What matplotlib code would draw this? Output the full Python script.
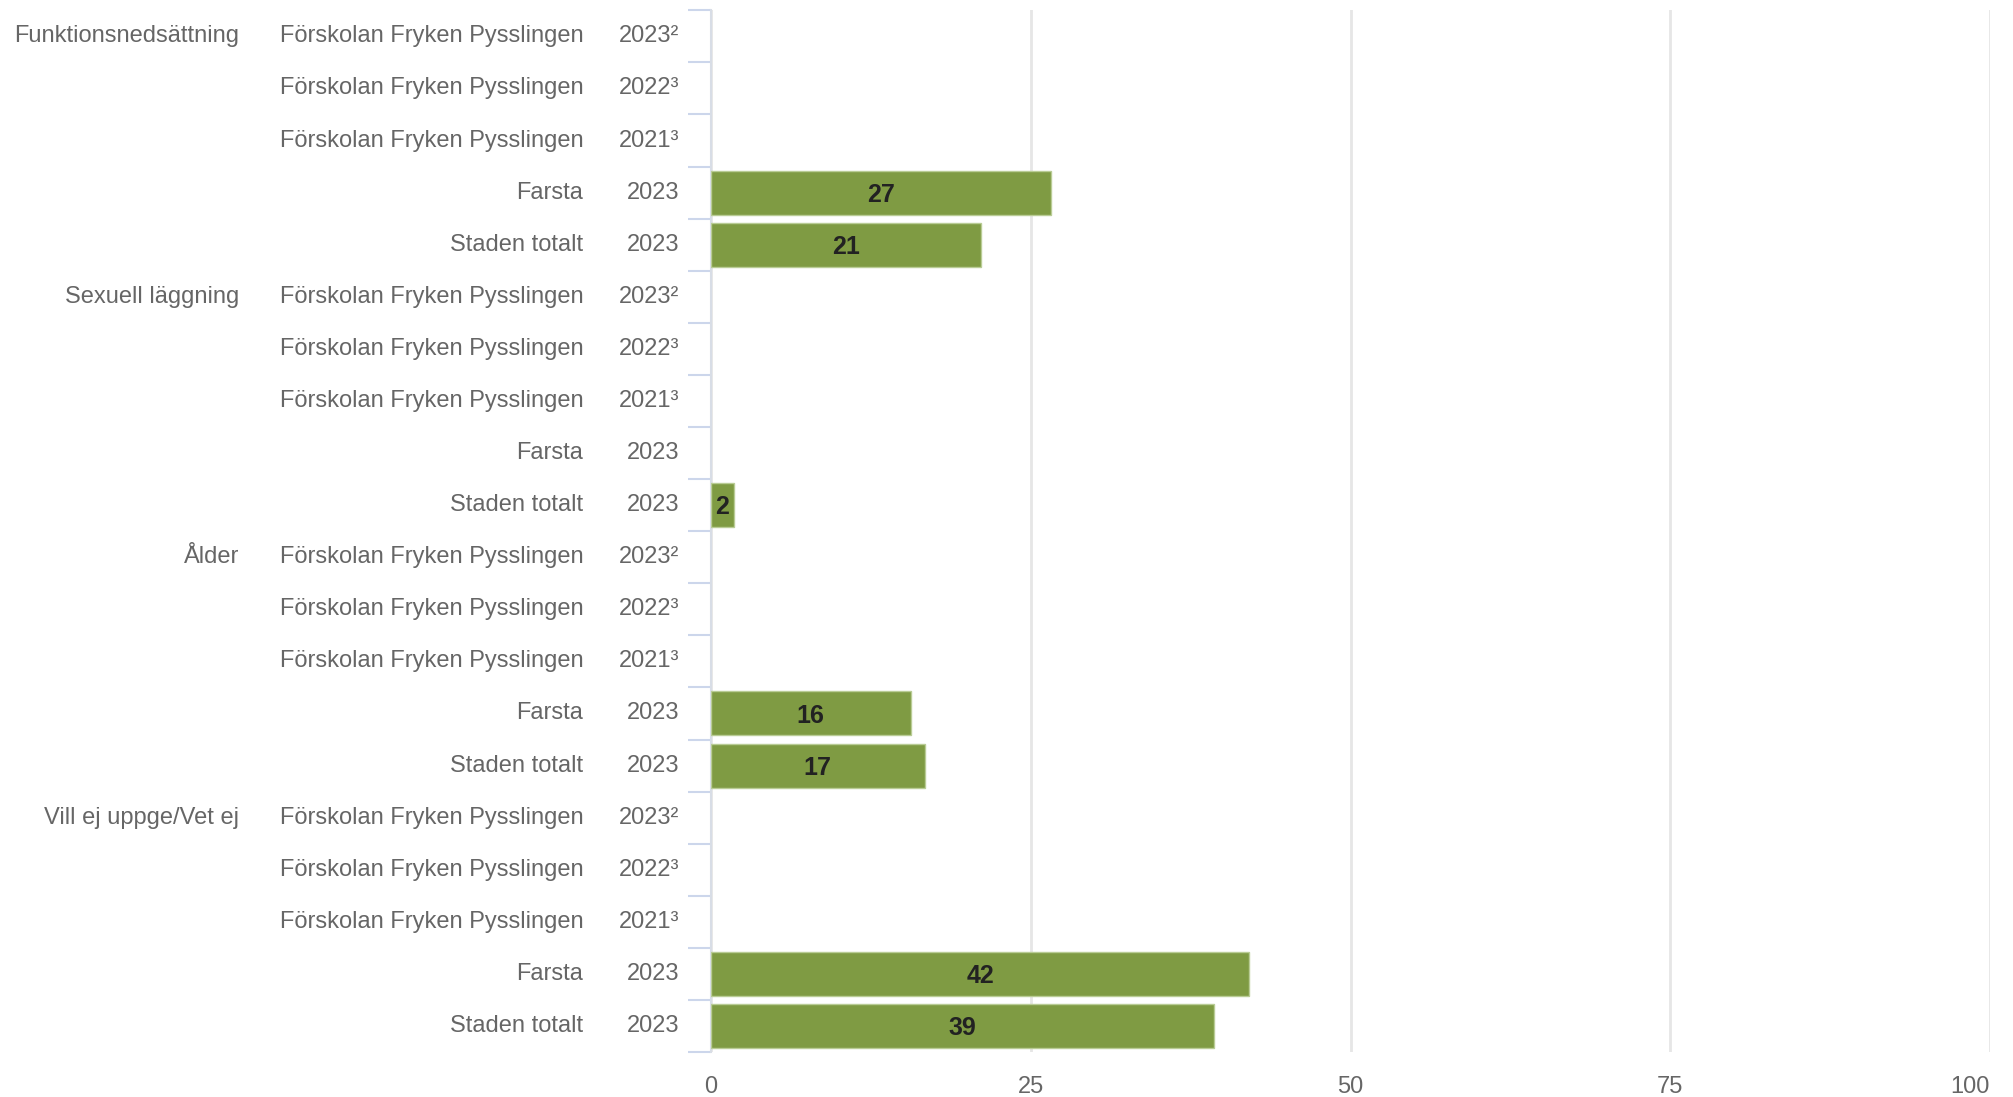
import numpy as np
import matplotlib
matplotlib.use('Agg')
import matplotlib.pyplot as plt
from matplotlib.transforms import blended_transform_factory

groups = ['Funktionsnedsättning', 'Sexuell läggning', 'Ålder', 'Vill ej uppge/Vet ej']
units = ['Förskolan Fryken Pysslingen', 'Förskolan Fryken Pysslingen',
         'Förskolan Fryken Pysslingen', 'Farsta', 'Staden totalt']
years = ['2023²', '2022³', '2021³', '2023', '2023']
values = [
    [np.nan, np.nan, np.nan, 26.6, 21.1],
    [np.nan, np.nan, np.nan, np.nan, 1.8],
    [np.nan, np.nan, np.nan, 15.6, 16.7],
    [np.nan, np.nan, np.nan, 42.1, 39.3],
]
xticks = [0, 25, 50, 75, 100]

plt.rcParams['font.family'] = ['Liberation Sans', 'DejaVu Sans']
grey = '#666666'
fs = 17

fig = plt.figure(figsize=(20.13, 10.97), dpi=100)
ax = fig.add_axes([0.3532, 0.041, 0.9886 - 0.3532, 0.9906 - 0.041])

vals = np.array(values).ravel()
n = len(vals)
ypos = np.arange(n)
has = ~np.isnan(vals)
ax.barh(ypos[has], vals[has], height=0.845, color='#7f9b43',
        edgecolor='#b9cc95', linewidth=1, zorder=3)

for y, v in zip(ypos[has], vals[has]):
    ax.text(v / 2, y + 0.04, f'{v:.0f}', ha='center', va='center',
            fontsize=18, fontweight='bold', color='#222222', zorder=4)

ax.set_xlim(0, 100)
ax.set_ylim(n - 0.5, -0.5)
ax.set_xticks(xticks)
ax.set_xticklabels([str(t) for t in xticks], fontsize=fs, color=grey)
ax.get_xticklabels()[-1].set_horizontalalignment('right')
ax.tick_params(axis='x', length=0, pad=17)
ax.grid(axis='x', color='#e6e6e6', linewidth=2, zorder=0)

# ticks between the categories
ax.set_yticks(np.arange(-0.5, n, 1.0))
ax.set_yticklabels([])
ax.tick_params(axis='y', length=16.5, width=1.5, color='#ccd6eb', direction='out')

for s in ['top', 'right', 'bottom']:
    ax.spines[s].set_visible(False)
ax.spines['left'].set_color('#d8dde6')
ax.spines['left'].set_linewidth(1.5)

tr = blended_transform_factory(fig.transFigure, ax.transData)
for i in range(n):
    g, k = divmod(i, len(units))
    if k == 0:
        ax.text(0.1187, i, groups[g], transform=tr, ha='right', va='center',
                fontsize=fs, color=grey)
    ax.text(0.2898, i, units[k], transform=tr, ha='right', va='center',
            fontsize=fs, color=grey)
    ax.text(0.3375, i, years[k], transform=tr, ha='right', va='center',
            fontsize=fs, color=grey)

fig.savefig('out.png', dpi=100)
